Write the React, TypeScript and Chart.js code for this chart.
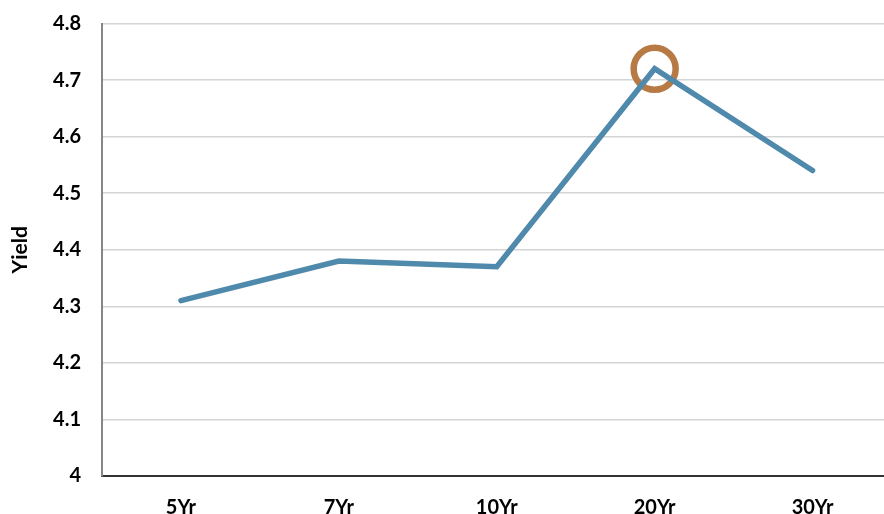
import React, { useEffect, useRef } from "react";
import { Chart, registerables } from "chart.js";

Chart.register(...registerables);

const categories = ["5Yr", "7Yr", "10Yr", "20Yr", "30Yr"];
const yields = [4.31, 4.38, 4.37, 4.72, 4.54];
const highlight = [null, null, null, 4.72, null];
const yTicks = [4, 4.1, 4.2, 4.3, 4.4, 4.5, 4.6, 4.7, 4.8];

export default function App() {
  const ref = useRef<HTMLCanvasElement | null>(null);
  useEffect(() => {
    if (!ref.current) return;
    const font = { family: "Lato, 'Open Sans', sans-serif", size: 20, weight: "bold" as const };
    const titleFont = { family: "Lato, 'Open Sans', sans-serif", size: 21, weight: "bold" as const };
    const chart = new Chart(ref.current, {
      type: "line",
      data: {
        datasets: [
          {
            data: yields.map((y, i) => ({ x: i, y })),
            borderColor: "#4f89ab",
            borderWidth: 5.5,
            pointRadius: 0,
            borderCapStyle: "round",
            borderJoinStyle: "miter",
            tension: 0,
          },
          {
            data: highlight.map((y, i) => ({ x: i, y })),
            showLine: false,
            pointRadius: 21,
            pointBorderWidth: 6.5,
            pointBorderColor: "#b87a45",
            pointBackgroundColor: "rgba(0,0,0,0)",
          },
        ],
      },
      options: {
        animation: false,
        responsive: false,
        maintainAspectRatio: false,
        layout: { padding: { top: 24, right: 0, left: 0, bottom: 0 } },
        plugins: { legend: { display: false }, tooltip: { enabled: false } },
        scales: {
          x: {
            type: "linear",
            min: -0.5,
            max: 4.5,
            afterBuildTicks: (s: any) => {
              s.ticks = categories.map((_, i) => ({ value: i }));
            },
            afterFit: (s: any) => {
              s.height = 42;
              s.paddingLeft = 0;
              s.paddingRight = 0;
            },
            grid: { display: false, drawTicks: false },
            border: { color: "#333333", width: 2 },
            ticks: {
              color: "#000",
              font,
              padding: 20,
              maxRotation: 0,
              autoSkip: false,
              callback: (v: any) => categories[v as number] ?? "",
            },
          },
          y: {
            min: 4,
            max: 4.8,
            afterBuildTicks: (s: any) => {
              s.ticks = yTicks.map((v) => ({ value: v }));
            },
            afterFit: (s: any) => {
              s.width = 102;
              s.paddingTop = 0;
              s.paddingBottom = 0;
            },
            grid: { color: "#d4d4d4", lineWidth: 1.5, drawTicks: false },
            border: { color: "#868686", width: 2 },
            ticks: {
              color: "#000",
              font,
              padding: 21,
              callback: (v: any) => String(Math.round(Number(v) * 10) / 10),
            },
            title: {
              display: true,
              text: "Yield",
              color: "#000",
              font: titleFont,
              padding: { top: 8, bottom: 0 },
            },
          },
        },
      },
    });
    return () => chart.destroy();
  }, []);
  return (
    <div style={{ position: "absolute", left: 0, top: 0, width: 884, height: 514, overflow: "hidden", background: "#fff" }}>
      <canvas ref={ref} width={919} height={522} style={{ display: "block", marginTop: -4 }} />
    </div>
  );
}
